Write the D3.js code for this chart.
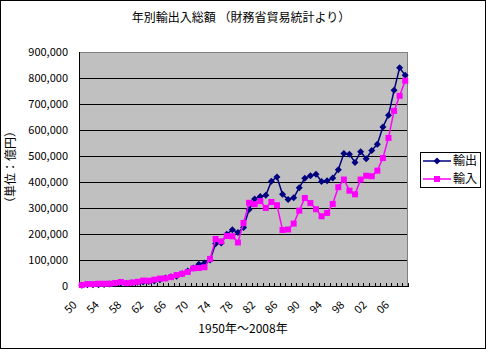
<!DOCTYPE html>
<html>
<head>
<meta charset="utf-8">
<script src="https://cdn.jsdelivr.net/npm/d3@7"></script>
<style>
  html, body { margin: 0; padding: 0; background: #fff; }
  svg { display: block; }
  text { font-family: "Noto Sans CJK JP", "Noto Sans", sans-serif; fill: #000; }
</style>
</head>
<body>
<svg id="chart" width="486" height="349"></svg>
<script>
// Years 1950–2008
const years = d3.range(1950, 2009);

// Annual exports (億円)
const exportsValues = [
  2980, 4888, 4582, 4590, 5865, 7238, 9001, 10290, 10357, 12445,
  14596, 15250, 17650, 19631, 24023, 30426, 35195, 37590, 46755, 57564,
  69544, 83928, 88061, 100314, 162079, 165453, 199346, 216481, 205558, 225315,
  293825, 334690, 344325, 349093, 403253, 419557, 352897, 333152, 339392, 378225,
  414569, 423599, 430123, 402024, 404976, 415309, 447313, 509380, 506450, 475476,
  516542, 489792, 521090, 545484, 611700, 656565, 752462, 839314, 810181
];

// Annual imports (億円)
const importsValues = [
  3482, 7365, 7298, 8738, 8636, 8897, 11629, 15422, 10950, 12983,
  16168, 20951, 20286, 24415, 28575, 29408, 34283, 41987, 46992, 53994,
  67972, 69100, 72290, 104044, 180764, 171700, 192292, 191318, 167276, 242454,
  319953, 314641, 326563, 300148, 323211, 310849, 215507, 217369, 240063, 289786,
  338552, 319002, 295274, 268264, 281043, 315488, 379934, 409562, 366536, 352680,
  409384, 424155, 422275, 443620, 492166, 569494, 673443, 731359, 789547
];

const yTicks = [0, 100000, 200000, 300000, 400000, 500000, 600000, 700000, 800000, 900000];
const seriesNames = ["輸出", "輸入"];
const titleText = "年別輸出入総額 （財務省貿易統計より）";
const xTitleText = "1950年～2008年";
const yTitleText = "（単位：億円）";

const svg = d3.select("#chart");

// Outer frame
svg.append("rect")
  .attr("x", 0.5).attr("y", 0.5).attr("width", 485).attr("height", 348)
  .attr("fill", "#fff").attr("stroke", "#000").attr("stroke-width", 1);

const plot = { left: 79, right: 408, top: 52, bottom: 286 };

const x = d3.scaleBand().domain(years).range([plot.left, plot.right]).padding(0);
const y = d3.scaleLinear().domain([0, 900000]).range([plot.bottom, plot.top]);

// Plot background
svg.append("rect")
  .attr("x", plot.left).attr("y", plot.top)
  .attr("width", plot.right - plot.left).attr("height", plot.bottom - plot.top)
  .attr("fill", "#C0C0C0");

// Horizontal gridlines
svg.append("g")
  .selectAll("line")
  .data(yTicks.filter(d => d > 0 && d < 900000))
  .join("line")
  .attr("x1", plot.left).attr("x2", plot.right)
  .attr("y1", d => Math.round(y(d)) + 0.5).attr("y2", d => Math.round(y(d)) + 0.5)
  .attr("stroke", "#000").attr("stroke-width", 1)
  .attr("shape-rendering", "crispEdges");

// Gray top and right border of the plot area
svg.append("path")
  .attr("d", `M${plot.left},${plot.top + 0.5}H${plot.right - 0.5}V${plot.bottom}`)
  .attr("fill", "none").attr("stroke", "#808080").attr("stroke-width", 1)
  .attr("shape-rendering", "crispEdges");

// Y axis (labels only, line drawn as the plot edge)
const yAxis = d3.axisLeft(y).tickValues(yTicks).tickSize(0).tickPadding(10)
  .tickFormat(d3.format(","));
const yg = svg.append("g").attr("transform", `translate(${plot.left},0)`).call(yAxis);
yg.select(".domain").remove();
yg.selectAll("text").attr("font-size", 11).attr("x", 68 - plot.left)
  .style("font-family", "'Noto Sans CJK JP', sans-serif");
svg.append("line")
  .attr("x1", plot.left + 0.5).attr("x2", plot.left + 0.5)
  .attr("y1", plot.top).attr("y2", plot.bottom + 1)
  .attr("stroke", "#000").attr("shape-rendering", "crispEdges");

// X axis: baseline plus inward ticks at category boundaries
svg.append("line")
  .attr("x1", plot.left).attr("x2", plot.right)
  .attr("y1", plot.bottom + 0.5).attr("y2", plot.bottom + 0.5)
  .attr("stroke", "#000").attr("shape-rendering", "crispEdges");
const boundaries = years.map(d => x(d)).concat([plot.right]);
svg.append("g")
  .selectAll("line")
  .data(boundaries)
  .join("line")
  .attr("x1", d => Math.round(d) + 0.5).attr("x2", d => Math.round(d) + 0.5)
  .attr("y1", plot.bottom - 3).attr("y2", plot.bottom + 1)
  .attr("stroke", "#000").attr("shape-rendering", "crispEdges");

// Rotated year labels every four years
const labelGroup = svg.append("g");
years.filter((d, i) => i % 4 === 0).forEach(d => {
  labelGroup.append("g")
    .attr("transform", `translate(${x(d) + x.bandwidth() / 2 - 7},${plot.bottom + 17})`)
    .append("text")
    .attr("transform", "rotate(-45)")
    .attr("text-anchor", "end")
    .attr("dy", "0.35em")
    .attr("font-size", 11)
    .text(String(d % 100).padStart(2, "0"));
});

// Series lines and markers
const cx = d => x(d) + x.bandwidth() / 2;
const line = vals => d3.line().x((d, i) => cx(years[i])).y(d => y(d))(vals);

const navy = "#000080", magenta = "#FF00FF";

svg.append("path").attr("d", line(exportsValues))
  .attr("fill", "none").attr("stroke", navy).attr("stroke-width", 1.5);
svg.append("g").selectAll("path")
  .data(exportsValues)
  .join("path")
  .attr("d", (d, i) => {
    const px = cx(years[i]), py = y(d), r = 3.5;
    return `M${px},${py - r}L${px + r},${py}L${px},${py + r}L${px - r},${py}Z`;
  })
  .attr("fill", navy);

svg.append("path").attr("d", line(importsValues))
  .attr("fill", "none").attr("stroke", magenta).attr("stroke-width", 1.5);
svg.append("g").selectAll("rect")
  .data(importsValues)
  .join("rect")
  .attr("x", (d, i) => cx(years[i]) - 3)
  .attr("y", d => y(d) - 3)
  .attr("width", 6).attr("height", 6)
  .attr("fill", magenta);

// Titles
svg.append("text")
  .attr("x", 241).attr("y", 22)
  .attr("text-anchor", "middle").attr("font-size", 12)
  .text(titleText);

svg.append("text")
  .attr("x", 243).attr("y", 333)
  .attr("text-anchor", "middle").attr("font-size", 12)
  .text(xTitleText);

svg.append("text")
  .attr("transform", "translate(15,167) rotate(-90)")
  .attr("text-anchor", "middle").attr("font-size", 12)
  .text(yTitleText);

// Legend
const lg = svg.append("g");
lg.append("rect")
  .attr("x", 420.5).attr("y", 152.5).attr("width", 60).attr("height", 35)
  .attr("fill", "#fff").attr("stroke", "#000").attr("stroke-width", 1);
const legendRows = [
  { name: seriesNames[0], color: navy, shape: "diamond", y: 161 },
  { name: seriesNames[1], color: magenta, shape: "square", y: 179 }
];
legendRows.forEach(r => {
  lg.append("line")
    .attr("x1", 423).attr("x2", 451).attr("y1", r.y).attr("y2", r.y)
    .attr("stroke", r.color).attr("stroke-width", 1.5);
  if (r.shape === "diamond") {
    const px = 437, py = r.y, s = 3.5;
    lg.append("path").attr("d", `M${px},${py - s}L${px + s},${py}L${px},${py + s}L${px - s},${py}Z`)
      .attr("fill", r.color);
  } else {
    lg.append("rect").attr("x", 434).attr("y", r.y - 3).attr("width", 6).attr("height", 6)
      .attr("fill", r.color);
  }
  lg.append("text")
    .attr("x", 453).attr("y", r.y).attr("dy", "0.35em")
    .attr("font-size", 12)
    .text(r.name);
});
</script>
</body>
</html>
